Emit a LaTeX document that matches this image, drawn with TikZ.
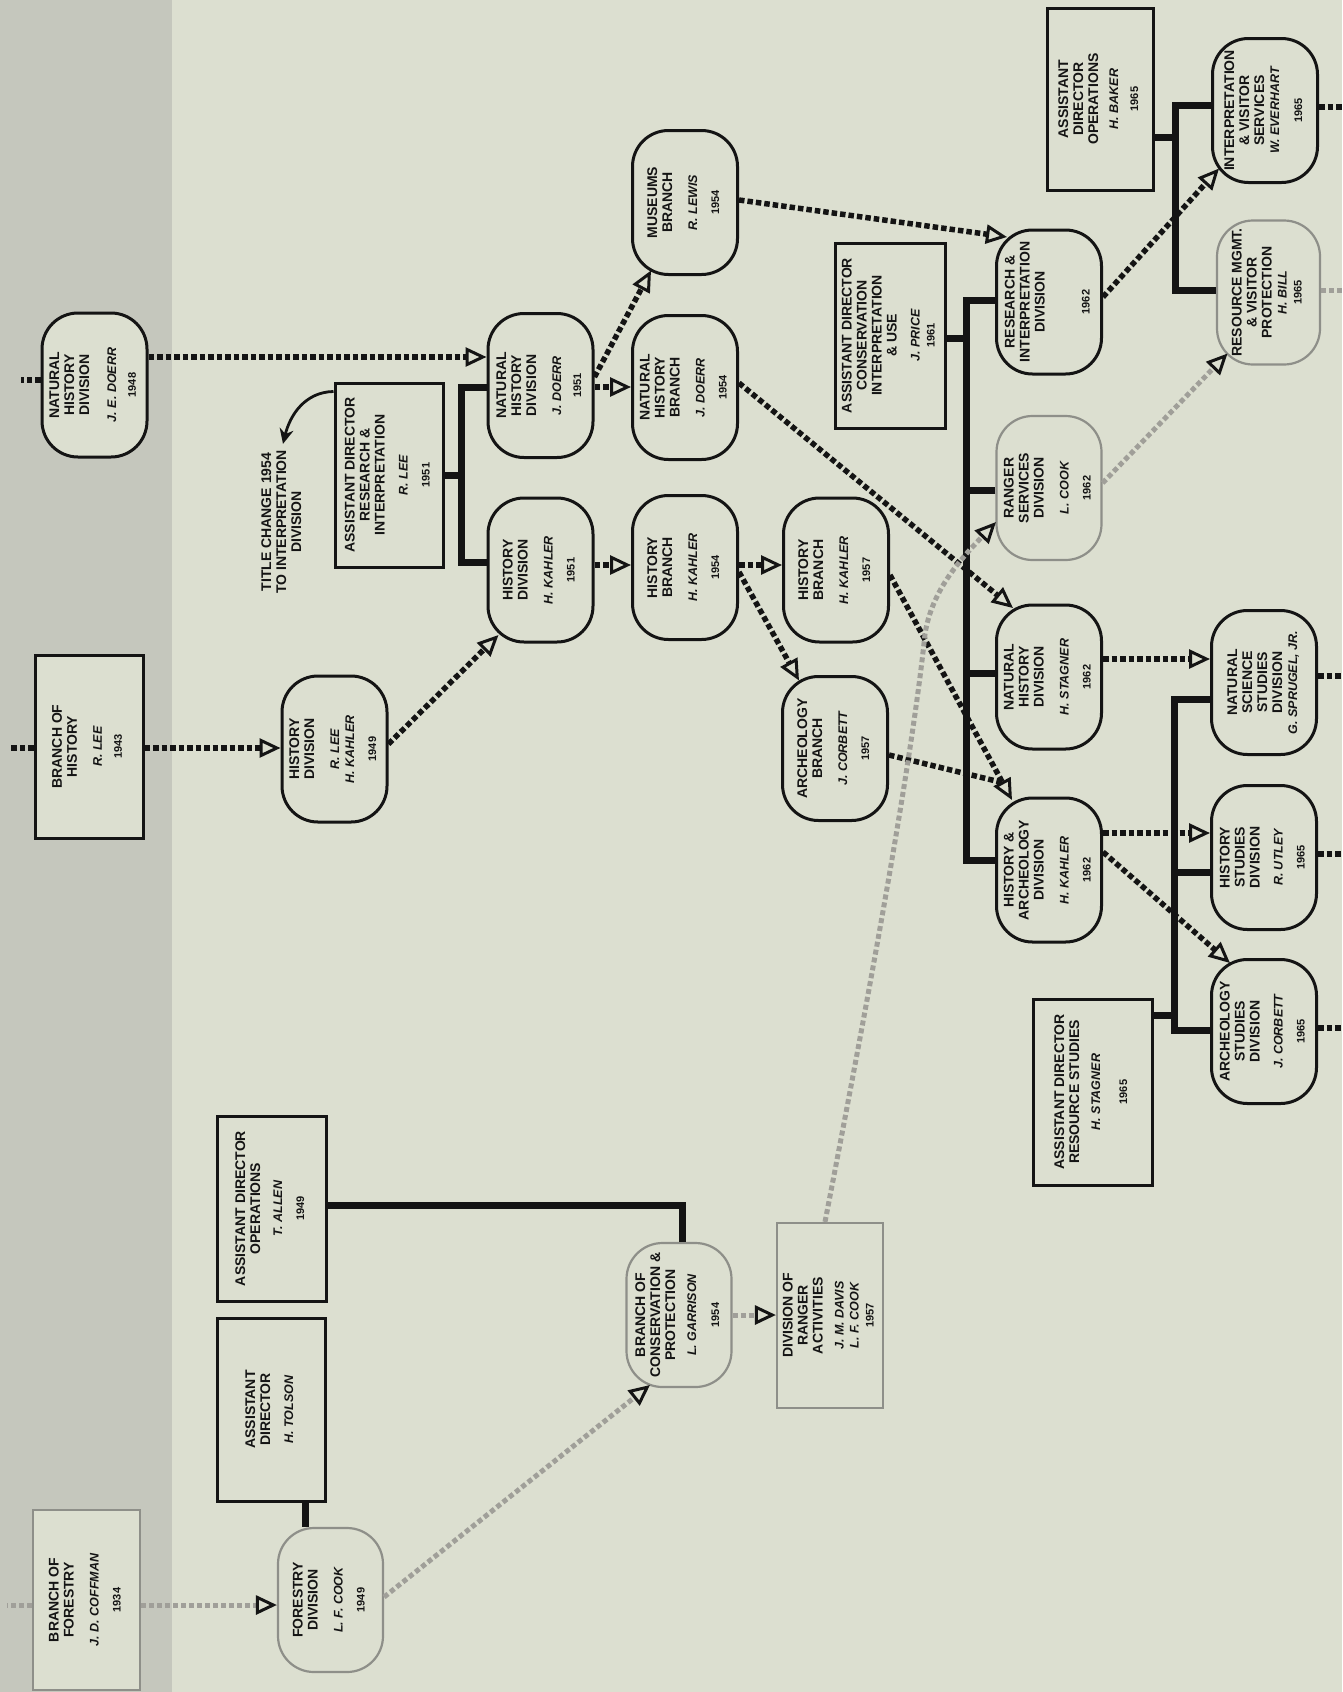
\documentclass[tikz,border=0pt]{standalone}
\usepackage{fontspec}
\setmainfont{Liberation Sans}
\usepackage{graphicx}
\usetikzlibrary{arrows.meta,calc}

\definecolor{paper}{HTML}{DCDFD0}
\definecolor{margin}{HTML}{C5C7BD}
\definecolor{ink}{HTML}{141414}
\definecolor{faded}{HTML}{A09F99}
\definecolor{fadedrule}{HTML}{8E8F89}

% box text: printed sideways, reading upwards
\newcommand\orgtext[1]{\rotatebox{90}{\fontsize{14}{15}\selectfont\bfseries
  \begin{tabular}{@{}c@{}}#1\end{tabular}}}
\newcommand\nm[1]{{\fontsize{12.5}{14}\selectfont\bfseries\itshape #1}}
\newcommand\yr[1]{{\fontsize{11}{12}\selectfont\bfseries #1}}

\tikzset{
  orgunit/.style={draw=ink, line width=3pt, rounded corners=36pt, fill=paper,
    minimum width=105pt, minimum height=144pt, inner sep=0pt, text=ink},
  fadedunit/.style={orgunit, draw=fadedrule, line width=2.2pt},
  orgoffice/.style={draw=ink, line width=3pt, fill=paper, inner sep=0pt, text=ink},
  fadedoffice/.style={orgoffice, draw=fadedrule, line width=2.2pt},
  flowline/.style={draw=ink, line width=5.5pt, dash pattern=on 5.5pt off 3pt},
  fadedflow/.style={draw=faded, line width=5pt, dash pattern=on 5pt off 3pt},
  openhead/.style={-{Triangle[open, length=21pt, width=19pt, line width=3pt, color=ink]}},
  solidlink/.style={draw=ink, line width=7pt},
}

\begin{document}
\begin{tikzpicture}[x=1pt, y=-1pt]
% page and darker left margin
\fill[paper] (0,0) rectangle (1342,1692);
\fill[margin] (0,0) rectangle (172,1692);
\useasboundingbox (0,0) rectangle (1342,1692);

% ---------- offices and units ----------
\node[orgunit] (nhd48) at (94.5,385)
  {\orgtext{NATURAL\\HISTORY\\DIVISION\\[12pt]\nm{J. E. DOERR}\\[5pt]\yr{1948}}};
\node[orgoffice, minimum width=108pt, minimum height=183pt] (brhist) at (89,746.5)
  {\orgtext{BRANCH OF\\HISTORY\\[10pt]\nm{R. LEE}\\[5pt]\yr{1943}}};
\node[fadedoffice, minimum width=107pt, minimum height=180pt] (brfor) at (86.5,1600)
  {\orgtext{BRANCH OF\\FORESTRY\\[10pt]\nm{J. D. COFFMAN}\\[7pt]\yr{1934}}};

\node[orgunit, minimum height=146pt] (hd49) at (334.5,749)
  {\orgtext{HISTORY\\DIVISION\\[10pt]\nm{R. LEE}\\\nm{H. KAHLER}\\[7pt]\yr{1949}}};
\node[fadedunit] (fd49) at (330.5,1600)
  {\orgtext{FORESTRY\\DIVISION\\[10pt]\nm{L. F. COOK}\\[7pt]\yr{1949}}};
\node[orgoffice, minimum width=108pt, minimum height=183pt] (adtolson) at (271,1409.5)
  {\orgtext{ASSISTANT\\DIRECTOR\\[8pt]\nm{H. TOLSON}}};
\node[orgoffice, minimum width=109pt, minimum height=185pt] (adallen) at (271.5,1208.5)
  {\orgtext{ASSISTANT DIRECTOR\\OPERATIONS\\[7pt]\nm{T. ALLEN}\\[7pt]\yr{1949}}};

\node[orgoffice, minimum width=108pt, minimum height=184pt] (adlee) at (389,475)
  {\orgtext{ASSISTANT DIRECTOR\\RESEARCH \&\\INTERPRETATION\\[8pt]\nm{R. LEE}\\[7pt]\yr{1951}}};
\node[inner sep=0pt, text=ink] (note) at (283,522)
  {\orgtext{TITLE CHANGE 1954\\TO INTERPRETATION\\DIVISION}};
\node[orgunit] (nhd51) at (540.5,385.5)
  {\orgtext{NATURAL\\HISTORY\\DIVISION\\[10pt]\nm{J. DOERR}\\[5pt]\yr{1951}}};
\node[orgunit] (hd51) at (540.5,570)
  {\orgtext{HISTORY\\DIVISION\\[10pt]\nm{H. KAHLER}\\[7pt]\yr{1951}}};

\node[orgunit] (mus54) at (685,202.5)
  {\orgtext{MUSEUMS\\BRANCH\\[10pt]\nm{R. LEWIS}\\[7pt]\yr{1954}}};
\node[orgunit] (nhb54) at (685,387.5)
  {\orgtext{NATURAL\\HISTORY\\BRANCH\\[10pt]\nm{J. DOERR}\\[7pt]\yr{1954}}};
\node[orgunit] (hb54) at (685,567.5)
  {\orgtext{HISTORY\\BRANCH\\[10pt]\nm{H. KAHLER}\\[7pt]\yr{1954}}};
\node[fadedunit] (bcp54) at (679,1315)
  {\orgtext{BRANCH OF\\CONSERVATION \&\\PROTECTION\\[6pt]\nm{L. GARRISON}\\[8pt]\yr{1954}}};

\node[orgunit] (hb57) at (836,570)
  {\orgtext{HISTORY\\BRANCH\\[10pt]\nm{H. KAHLER}\\[7pt]\yr{1957}}};
\node[orgunit] (ab57) at (835,748.5)
  {\orgtext{ARCHEOLOGY\\BRANCH\\[10pt]\nm{J. CORBETT}\\[7pt]\yr{1957}}};
\node[fadedoffice, minimum width=106pt, minimum height=185pt] (dra57) at (830,1315.5)
  {\orgtext{DIVISION OF\\RANGER\\ACTIVITIES\\[6pt]\nm{J. M. DAVIS}\\\nm{L. F. COOK}\\\yr{1957}}};

\node[orgoffice, minimum width=110pt, minimum height=185pt] (adprice) at (890,335.5)
  {\orgtext{ASSISTANT DIRECTOR\\CONSERVATION\\INTERPRETATION\\\& USE\\[8pt]\nm{J. PRICE}\\\yr{1961}}};
\node[orgunit] (rid62) at (1049,302)
  {\orgtext{RESEARCH \&\\INTERPRETATION\\DIVISION\\[10pt]\\[5pt]\yr{1962}}};
\node[fadedunit] (rsd62) at (1049,488)
  {\orgtext{RANGER\\SERVICES\\DIVISION\\[10pt]\nm{L. COOK}\\[7pt]\yr{1962}}};
\node[orgunit] (nhd62) at (1049,677)
  {\orgtext{NATURAL\\HISTORY\\DIVISION\\[10pt]\nm{H. STAGNER}\\[7pt]\yr{1962}}};
\node[orgunit] (had62) at (1049,870)
  {\orgtext{HISTORY \&\\ARCHEOLOGY\\DIVISION\\[10pt]\nm{H. KAHLER}\\[7pt]\yr{1962}}};

\node[orgoffice, minimum width=106pt, minimum height=182pt] (adbaker) at (1100,99)
  {\orgtext{ASSISTANT\\DIRECTOR\\OPERATIONS\\[5pt]\nm{H. BAKER}\\[5pt]\yr{1965}}};
\node[orgunit] (ivs65) at (1265,110.5)
  {\orgtext{INTERPRETATION\\\& VISITOR\\SERVICES\\\nm{W. EVERHART}\\[8pt]\yr{1965}}};
\node[fadedunit, minimum width=103pt] (rmvp65) at (1268.5,292.5)
  {\orgtext{RESOURCE MGMT.\\\& VISITOR\\PROTECTION\\\nm{H. BILL}\\\yr{1965}}};
\node[orgunit] (nss) at (1264,682.5)
  {\orgtext{NATURAL\\SCIENCE\\STUDIES\\DIVISION\\\nm{G. SPRUGEL, JR.}}};
\node[orgunit] (hsd65) at (1264,857.5)
  {\orgtext{HISTORY\\STUDIES\\DIVISION\\[8pt]\nm{R. UTLEY}\\[7pt]\yr{1965}}};
\node[orgunit] (asd65) at (1264,1031.5)
  {\orgtext{ARCHEOLOGY\\STUDIES\\DIVISION\\[8pt]\nm{J. CORBETT}\\[7pt]\yr{1965}}};
\node[orgoffice, minimum width=119pt, minimum height=186pt] (adstagner) at (1092.5,1092)
  {\orgtext{ASSISTANT DIRECTOR\\RESOURCE STUDIES\\[6pt]\nm{H. STAGNER}\\[12pt]\yr{1965}}};

% ---------- lines of authority ----------
\draw[solidlink] (adtolson.south -| 305,0) -- (fd49.north -| 305,0);
\draw[solidlink] (adallen.east |- 0,1205) -| (bcp54.north -| 682,0);
\draw[solidlink] (adlee.east |- 0,475) -- ++(20,0);
\draw[solidlink] (nhd51.west |- 0,387) -| ($(hd51.west)+(-25,-8)$) -- (hd51.west |- 0,562);
\draw[solidlink] (adprice.east |- 0,338) -- ++(23,0);
\draw[solidlink] (rid62.west |- 0,300) -| ($(had62.west)+(-29,-10)$) -- (had62.west |- 0,860);
\draw[solidlink] (rsd62.west |- 0,490) -- ++(-29,0);
\draw[solidlink] (nhd62.west |- 0,673) -- ++(-29,0);
\draw[solidlink] (adbaker.east |- 0,137) -- ++(24,0);
\draw[solidlink] (ivs65.west |- 0,105) -| ($(rmvp65.west)+(-40,-2.5)$) -- (rmvp65.west |- 0,290);
\draw[solidlink] (adstagner.east |- 0,1015) -- ++(24,0);
\draw[solidlink] (nss.west |- 0,699) -| ($(asd65.west)+(-35.5,-1.5)$) -- (asd65.west |- 0,1030);
\draw[solidlink] (hsd65.west |- 0,872) -- ++(-38.5,0);

% ---------- succession of units ----------
\draw[flowline] (nhd48.west |- 0,380) -- ++(-20,0);
\draw[flowline, openhead] (nhd48.east |- 0,357) -- (nhd51.west |- 0,357);
\draw[flowline] (brhist.west |- 0,748) -- ++(-23,0);
\draw[flowline, openhead] (brhist.east |- 0,748) -- (hd49.west |- 0,748);
\draw[flowline, openhead] (hd49.east |- 0,744) -- ($(hd51.center)+(-42,65)$);
\draw[flowline, openhead] (nhd51.east |- 0,387) -- (nhb54.west |- 0,387);
\draw[flowline, openhead] (nhd51.east |- 0,377) -- ($(mus54.center)+(-34,68)$);
\draw[flowline, openhead] (hd51.east |- 0,565) -- (hb54.west |- 0,565);
\draw[flowline, openhead] (hb54.east |- 0,565) -- (hb57.west |- 0,565);
\draw[flowline, openhead] (hb54.east |- 0,572) -- ($(ab57.center)+(-36,-68)$);
\draw[flowline, openhead] (mus54.east |- 0,200) -- ($(rid62.center)+(-42,-65)$);
\draw[flowline, openhead] (nhb54.east |- 0,383) -- ($(nhd62.center)+(-36,-69)$);
\coordinate (merge) at ($(had62.center)+(-46.7,-87.5)$);
\draw[flowline] (ab57.east |- 0,755) -- (merge);
\draw[flowline, openhead] (hb57.east |- 0,575) -- ($(had62.center)+(-37,-70)$);
\draw[flowline, openhead] (rid62.east |- 0,297) -- ($(ivs65.center)+(-46,58)$);
\draw[flowline, openhead] (nhd62.east |- 0,659) -- (nss.west |- 0,659);
\draw[flowline, openhead] (had62.east |- 0,833) -- (hsd65.west |- 0,833);
\draw[flowline, openhead] (had62.east |- 0,852) -- ($(asd65.center)+(-34,-68.5)$);
\draw[flowline] (ivs65.east |- 0,107) -- ++(26,0);
\draw[flowline] (nss.east |- 0,676) -- ++(28,0);
\draw[flowline] (hsd65.east |- 0,854) -- ++(28,0);
\draw[flowline] (asd65.east |- 0,1028) -- ++(28,0);

\draw[fadedflow] (brfor.west |- 0,1605) -- ++(-25,0);
\draw[fadedflow, openhead] (brfor.east |- 0,1605) -- (fd49.west |- 0,1605);
\draw[fadedflow, openhead] (fd49.east |- 0,1597) -- ($(bcp54.center)+(-29,70)$);
\draw[fadedflow, openhead] (bcp54.east |- 0,1315) -- (dra57.west |- 0,1315);
\draw[fadedflow, openhead] (dra57.north -| 825,0) .. controls (870,990) and (912,760) .. (925,634)
  .. controls (932,590) and (960,560) .. ($(rsd62.center)+(-53,34)$);
\draw[fadedflow, openhead] (rsd62.east |- 0,483) -- ($(rmvp65.center)+(-41,61)$);
\draw[fadedflow] (rmvp65.east |- 0,290) -- ++(22,0);

% ---------- note on the renamed office ----------
\draw[ink, line width=2.8pt, -{Stealth[length=15pt, width=14pt]}]
  ($(adlee.north west)+(0,10)$) .. controls (305,392) and (290,415) .. ($(note.north)+(0,-6)$);
\end{tikzpicture}
\end{document}
